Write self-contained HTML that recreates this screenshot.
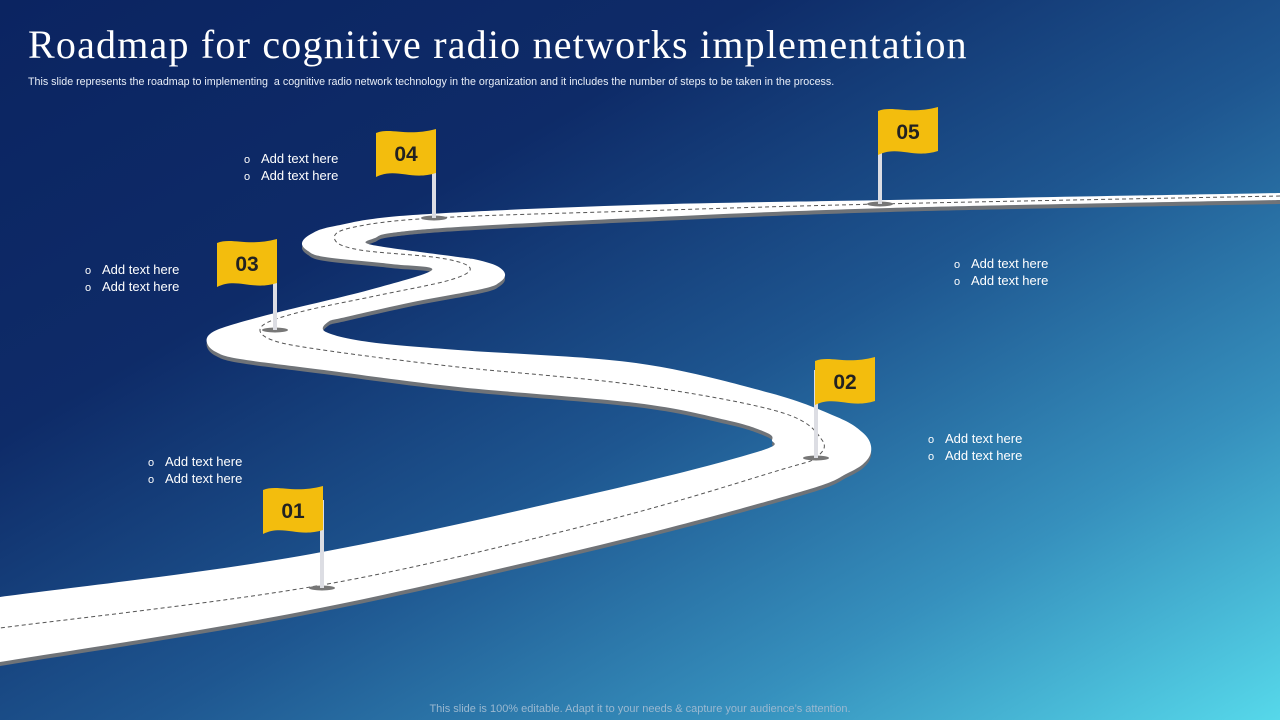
<!DOCTYPE html>
<html><head><meta charset="utf-8"><style>
html,body{margin:0;padding:0}
body{width:1280px;height:720px;overflow:hidden;position:relative;font-family:"Liberation Sans",sans-serif;
background:linear-gradient(150deg,#0b2461 0%,#0e2b68 30%,#1e5690 55%,#3690bd 78%,#56d8ea 100%);}
h1{position:absolute;left:28px;top:21px;margin:0;font-family:"Liberation Serif",serif;font-weight:normal;font-size:40px;color:#fff;letter-spacing:1.2px;white-space:nowrap}
.sub{position:absolute;left:28px;top:76px;font-size:10.7px;color:#e8eef8;white-space:nowrap}
.foot{position:absolute;left:0;width:1280px;top:703px;text-align:center;font-size:11px;color:#9ab8d0}
.t{position:absolute;color:#fff;font-size:13px;line-height:16px}
.t div:before{content:"o";display:inline-block;width:17px;font-size:11px}
svg{position:absolute;left:0;top:0}
</style></head><body>
<h1>Roadmap for cognitive radio networks implementation</h1>
<div class="sub">This slide represents the roadmap to implementing &nbsp;a cognitive radio network technology in the organization and it includes the number of steps to be taken in the process.</div>
<svg width="1280" height="720" viewBox="0 0 1280 720">
<defs>
<g id="flag"><path d="M0,4 C15,-2 30,8 60,0 L60,44 C35,52 20,38 0,48 Z" fill="#f3bd0d"/></g>
</defs>
<path id="shadow" fill="#6f7378" transform="translate(0,4)" d=""/>
<path id="road" fill="#ffffff" d=""/>
<path id="center" fill="none" stroke="#555" stroke-width="1" stroke-dasharray="4,3" d=""/>
<g>
<ellipse cx="322" cy="588" rx="13" ry="2.5" fill="#777"/><rect x="320" y="500" width="4" height="88" fill="#dcdde3"/>
<use href="#flag" transform="translate(263,486)"/><text x="293" y="518" font-size="21" font-weight="bold" fill="#222" text-anchor="middle" font-family="Liberation Sans">01</text>
<ellipse cx="816" cy="458" rx="13" ry="2.5" fill="#777"/><rect x="814" y="370" width="4" height="88" fill="#dcdde3"/>
<use href="#flag" transform="translate(815,357)"/><text x="845" y="389" font-size="21" font-weight="bold" fill="#222" text-anchor="middle" font-family="Liberation Sans">02</text>
<ellipse cx="275" cy="330" rx="13" ry="2.5" fill="#777"/><rect x="273" y="260" width="4" height="70" fill="#dcdde3"/>
<use href="#flag" transform="translate(217,239)"/><text x="247" y="271" font-size="21" font-weight="bold" fill="#222" text-anchor="middle" font-family="Liberation Sans">03</text>
<ellipse cx="434" cy="218" rx="13" ry="2.5" fill="#777"/><rect x="432" y="150" width="4" height="68" fill="#dcdde3"/>
<use href="#flag" transform="translate(376,129)"/><text x="406" y="161" font-size="21" font-weight="bold" fill="#222" text-anchor="middle" font-family="Liberation Sans">04</text>
<ellipse cx="880" cy="204" rx="13" ry="2.5" fill="#777"/><rect x="878" y="125" width="4" height="79" fill="#dcdde3"/>
<use href="#flag" transform="translate(878,107)"/><text x="908" y="139" font-size="21" font-weight="bold" fill="#222" text-anchor="middle" font-family="Liberation Sans">05</text>
</g>
</svg>
<div class="t" style="left:244px;top:151px"><div>Add text here</div><div>Add text here</div></div>
<div class="t" style="left:85px;top:262px"><div>Add text here</div><div>Add text here</div></div>
<div class="t" style="left:148px;top:454px"><div>Add text here</div><div>Add text here</div></div>
<div class="t" style="left:954px;top:256px"><div>Add text here</div><div>Add text here</div></div>
<div class="t" style="left:928px;top:431px"><div>Add text here</div><div>Add text here</div></div>
<div class="foot">This slide is 100% editable. Adapt it to your needs &amp; capture your audience’s attention.</div>
<script>
function cr(p){
  var n=p.length,d="M"+p[0][0]+","+p[0][1];
  for(var i=0;i<n-1;i++){
    var p0=p[i-1]||p[i],p1=p[i],p2=p[i+1],p3=p[i+2]||p2;
    var c1=[p1[0]+(p2[0]-p0[0])/6,p1[1]+(p2[1]-p0[1])/6];
    var c2=[p2[0]-(p3[0]-p1[0])/6,p2[1]-(p3[1]-p1[1])/6];
    d+=" C"+c1[0].toFixed(1)+","+c1[1].toFixed(1)+" "+c2[0].toFixed(1)+","+c2[1].toFixed(1)+" "+p2[0]+","+p2[1];
  }
  return d;
}
var A=[[1280,193],[890,200],[636,205],[413,215],[335,226],[311,234],[302,243],[308,251],[325,257],[391,264],[432,270],[369,290],[279,312],[228,326],[210,334],[207,343],[216,352],[240,359],[324,370],[458,387],[636,403],[726,420],[765,432],[772,440],[757,452],[600,492],[300,556],[0,597]];
var B=[[0,662],[300,612],[600,545],[800,492],[848,473],[867,460],[871,446],[862,432],[837,417],[770,393],[636,363],[458,350],[369,342],[326,332],[328,322],[346,317],[413,302],[482,289],[500,282],[505,274],[497,266],[478,260],[458,257],[391,248],[366,243],[375,238],[391,233],[458,227],[636,218],[890,208],[1280,200]];
var d=cr(A)+" L0,662 "+cr(B).replace(/^M[^ ]+/,"")+" Z";
document.getElementById("road").setAttribute("d",d);
document.getElementById("shadow").setAttribute("d",d);
var C=[[1280,196],[880,204],[636,211],[434,218],[350,228],[335,240],[360,250],[440,258],[470,268],[450,280],[380,295],[300,312],[262,326],[272,340],[330,351],[458,367],[636,385],[780,412],[822,440],[815,458],[780,470],[600,522],[322,585],[0,628]];
document.getElementById("center").setAttribute("d",cr(C));
</script>
</body></html>
